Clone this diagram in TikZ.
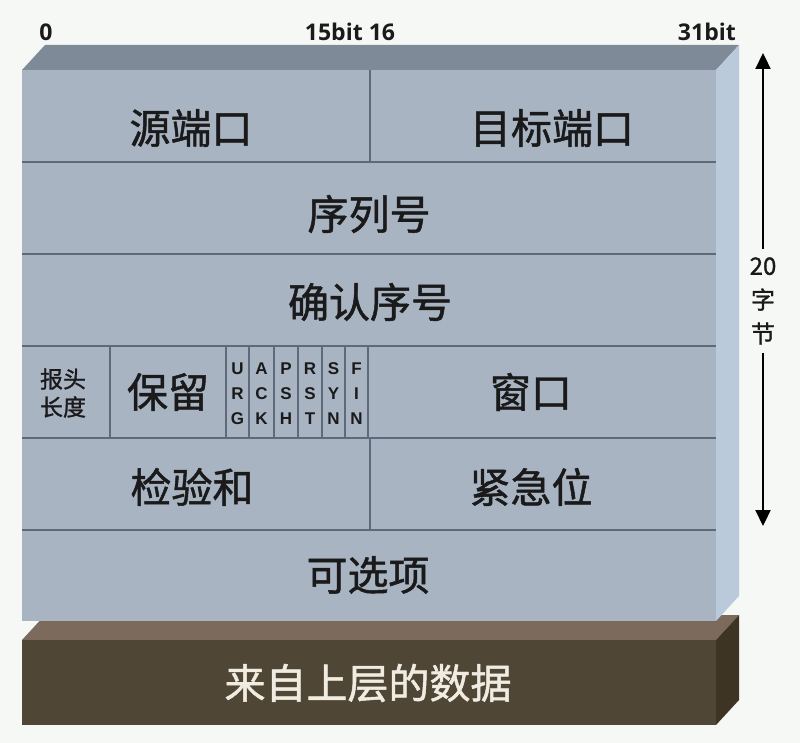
\documentclass[tikz,border=0pt]{standalone}
\usepackage{fontspec}
\setmainfont{Open Sans}
\newfontfamily\cjk[FakeBold=1.2]{Noto Sans CJK SC}
\newfontfamily\flagfont{Liberation Sans}
\usetikzlibrary{arrows.meta}
\definecolor{bgc}{HTML}{F5F8F5}
\definecolor{frontc}{HTML}{A9B4C3}
\definecolor{topc}{HTML}{7E8A97}
\definecolor{sidec}{HTML}{BACADA}
\definecolor{linec}{HTML}{5E6A7A}
\definecolor{brownf}{HTML}{4F4636}
\definecolor{brownt}{HTML}{7C6B5D}
\definecolor{browns}{HTML}{3E3424}
\definecolor{txtc}{HTML}{1A1A1A}
\definecolor{wtxt}{HTML}{F0ECE2}
\tikzset{
  big/.style={font=\cjk\fontsize{41}{43}\selectfont, text=txtc, inner sep=0pt},
  small/.style={font=\cjk\fontsize{23}{28}\selectfont, text=txtc, inner sep=0pt, align=center},
  flag/.style={font=\flagfont\bfseries\fontsize{17}{25}\selectfont, text=txtc, inner sep=0pt, align=center},
  bitlab/.style={font=\bfseries\fontsize{23}{26}\selectfont, text=txtc, inner sep=0pt},
  sep/.style={draw=linec, line width=1.4pt},
}
\begin{document}
\begin{tikzpicture}[x=1pt,y=-1pt]
\fill[bgc] (0,0) rectangle (800,743);
\useasboundingbox (0,0) rectangle (800,743);
% brown block
\fill[brownt] (22,640) -- (45,615) -- (739,615) -- (716,640) -- cycle;
\fill[browns] (716,640) -- (739,615) -- (739,700) -- (716,725) -- cycle;
\fill[brownf] (22,640) rectangle (716,725);
% blue block
\fill[topc] (22,70) -- (45,45) -- (739,45) -- (716,70) -- cycle;
\fill[sidec] (716,70) -- (739,45) -- (739,596) -- (716,621) -- cycle;
\fill[frontc] (22,70) rectangle (716,621);
% row separators
\foreach \yy in {162,254,346,438,530}
  \draw[sep] (22,\yy) -- (716,\yy);
\draw[sep] (370,70) -- (370,162);
\draw[sep] (370,438) -- (370,530);
\foreach \xx in {110,226,249,274,298,322,345,368}
  \draw[sep] (\xx,346) -- (\xx,438);
% bit labels
\node[bitlab] (b0) at (46,32) {0};
\node[bitlab] (b15) at (350,32) {15bit 16};
\node[bitlab, anchor=east] (b31) at (736,32) {31bit};
% cell texts
\node[big] (src) at (191,128) {源端口};
\node[big] (dst) at (552,128) {目标端口};
\node[big] (seq) at (369,214) {序列号};
\node[big] (ack) at (370,302) {确认序号};
\node[small] (hlen) at (63,393) {报头\\长度};
\node[big] (res) at (168,392) {保留};
\node[flag] (urg) at (237.5,394) {U\\R\\G};
\node[flag] (ackf) at (261.5,394) {A\\C\\K};
\node[flag] (psh) at (286,394) {P\\S\\H};
\node[flag] (rst) at (310,394) {R\\S\\T};
\node[flag] (syn) at (333.5,394) {S\\Y\\N};
\node[flag] (fin) at (356.5,394) {F\\I\\N};
\node[big] (win) at (531,392) {窗口};
\node[big] (chk) at (192,487) {检验和};
\node[big] (urgp) at (531,487) {紧急位};
\node[big] (opt) at (368,575) {可选项};
\node[big, text=wtxt] (data) at (368,683) {来自上层的数据};
% 20 bytes arrow
\node[font=\cjk\fontsize{24}{34}\selectfont, text=txtc, align=center, inner sep=0pt] (len) at (763,301) {20\\字\\节};
\coordinate (atop) at (763,53);
\coordinate (abot) at (763,526);
\draw[line width=2.2pt, -{Triangle[length=16pt,width=15pt]}] ([yshift=8pt]len.north) -- (atop);
\draw[line width=2.2pt, -{Triangle[length=16pt,width=15pt]}] ([yshift=-8pt]len.south) -- (abot);
\end{tikzpicture}
\end{document}
